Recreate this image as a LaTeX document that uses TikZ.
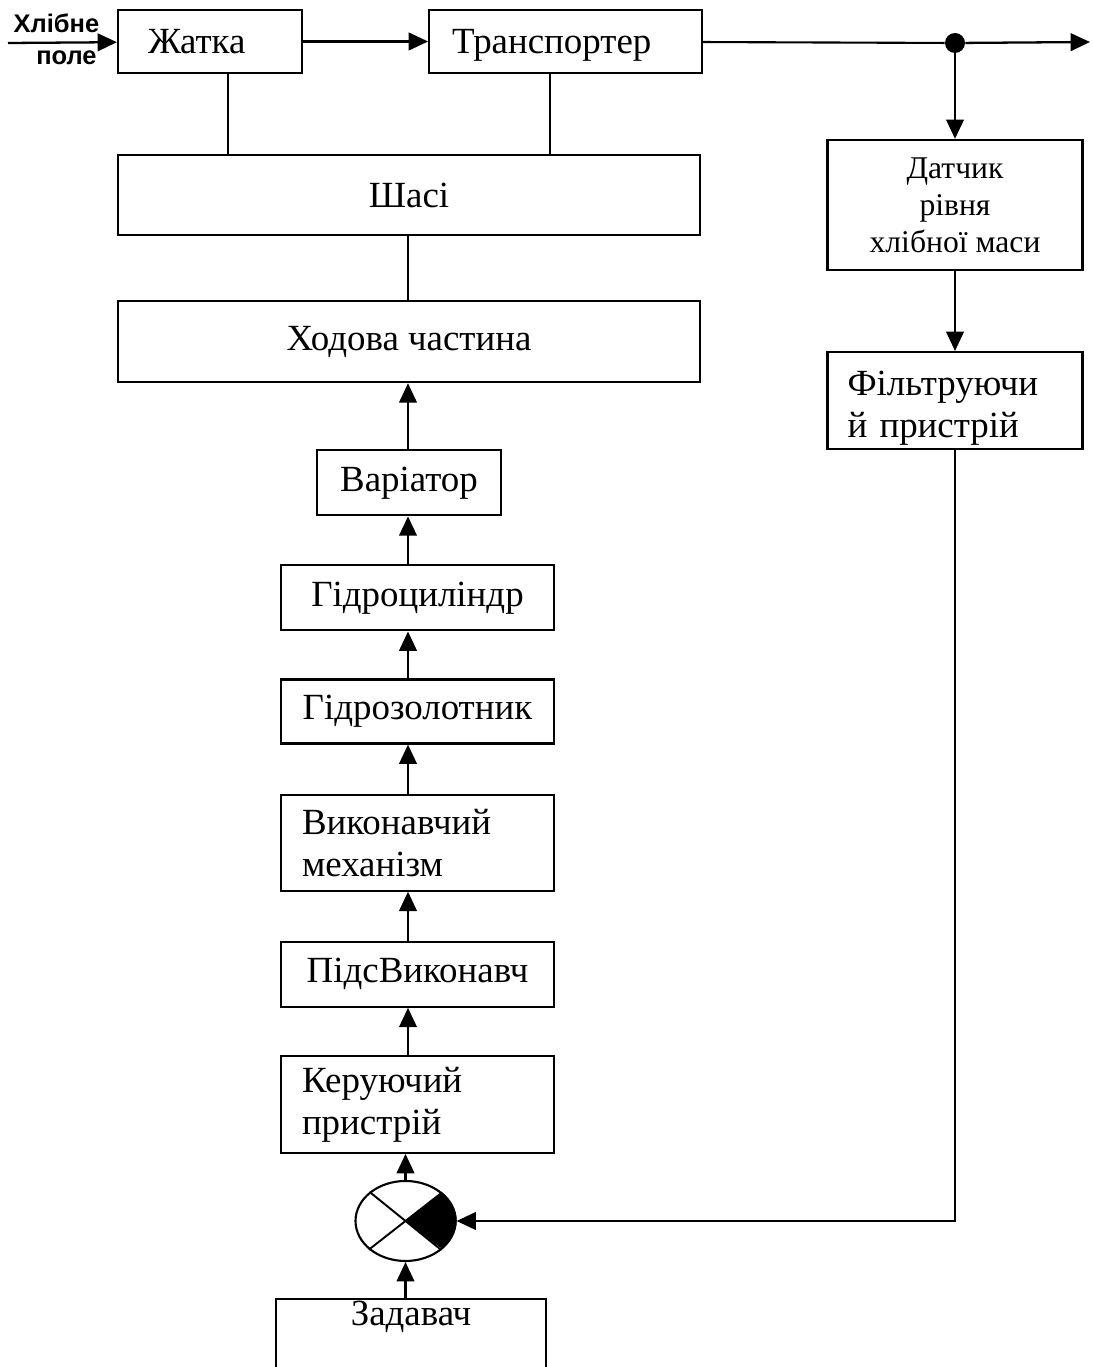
\documentclass[tikz,border=0pt]{standalone}
\usepackage{fontspec}
\setmainfont{Liberation Serif}
\setsansfont{Liberation Sans}
\usepackage{tikz}
\usetikzlibrary{positioning}
\usetikzlibrary{arrows.meta}
\usetikzlibrary{shapes}
\tikzset{%
  every block/.style={
    rectangle,
    draw,
    line width=1.2pt,
    inner sep=0pt,
    font=\fontsize{21}{24}\selectfont
  },
  left block/.style={
    every block,
    align=left,
    inner xsep=#1
  },
  summator/.style={
    ellipse,
    draw,
    line width=1.2pt,
    inner sep=0pt,
    minimum width=2cm,
    minimum height=1.6cm
  },
  field text/.style={
    inner sep=0pt,
    font=\sffamily\bfseries\fontsize{14.5}{16}\selectfont
  },
}
\begin{document}
\begin{tikzpicture}
      \tikzstyle{line} = [draw, -{Triangle[length=11pt,width=10pt]}, line width=1.3pt]
      \tikzstyle{link} = [draw, line width=1.2pt]
      \useasboundingbox (0,0) rectangle (21.86,-27.34);
      \coordinate (axis) at (8.16,0);

      % Жатка
      \node[left block=0.6cm,text width=2.48cm,minimum height=1.26cm] (header) at (4.2,-0.83) {Жатка};

      % Транспортер
      \node[left block=0.46cm,text width=4.54cm,minimum height=1.26cm,text depth=0pt,right = 2.5cm of header] (transp) {Транспортер};

      % Шасі
      \node[every block,minimum width=11.64cm,minimum height=1.6cm,below = 1.6cm of header.south west,anchor=north west] (chassis) {Шасі};

      % Ходова частина
      \node[every block,minimum width=11.64cm,minimum height=1.62cm,below = 1.28cm of chassis] (running) {Ходова частина};

      % regulation chain
      \node[every block,minimum width=3.68cm,minimum height=1.3cm,below = 1.32cm of running] (variator) {Варіатор};
      \node[every block,minimum width=5.46cm,minimum height=1.3cm,below = 0.96cm of variator,xshift=0.17cm] (hydrocyl) {Гідроциліндр};
      \node[every block,minimum width=5.46cm,minimum height=1.28cm,below = 0.94cm of hydrocyl] (spool) {Гідрозолотник};
      \node[left block=0.42cm,text width=4.62cm,minimum height=1.92cm,below = 0.98cm of spool] (actuator) {Виконавчий\\механізм};
      \node[every block,minimum width=5.46cm,minimum height=1.3cm,below = 0.98cm of actuator] (amplifier) {ПідсВиконавч};
      \node[left block=0.42cm,text width=4.62cm,minimum height=1.94cm,below = 0.94cm of amplifier] (controller) {Керуючий\\пристрій};

      % Summator
      \node[summator,below = 0.52cm of controller,xshift=-0.24cm] (sum) {};
      \fill (sum.center) -- (sum.38.66) arc[start angle=45,end angle=-45,x radius=1cm,y radius=0.8cm] -- cycle;
      \draw[line width=1.1pt] (sum.38.66) -- (sum.218.66);
      \draw[line width=1.1pt] (sum.141.34) -- (sum.321.34);

      % Задавач
      \node[every block,minimum width=5.4cm,minimum height=1.84cm,text depth=1.26cm,below = 0.72cm of sum,xshift=0.11cm] (setter) {Задавач};

      % Level sensor branch
      \node[circle,fill,inner sep=0pt,minimum size=0.4cm] (split) at (19.1,-0.86) {};
      \coordinate (out) at (21.8,-0.84);
      \node[every block,minimum width=5.1cm,minimum height=2.6cm,align=center,font=\fontsize{18}{21}\selectfont,below = 1.71cm of split] (sensor) {Датчик\\рівня\\хлібної маси};
      \node[left block=0.4cm,text width=4.3cm,minimum height=1.94cm,text height=0.8cm,below = 1.6cm of sensor] (filter) {Фільтруючи\\й пристрій};

      % field -> \header
      \coordinate (field) at (0.16,-0.86);
      \path[line] (field) -- node[field text,above=5pt,xshift=-0.12cm] (crop) {Хлібне}
        node[field text,below=4pt,xshift=0.08cm] (field label) {поле} (header);

      % \header -> \transp -> output
      \path[line] (header) -- (transp);
      \draw[link] (transp) -- (split);
      \path[line] (split) -- (out);

      % machine links
      \draw[link] ([xshift=0.36cm]header.south) -- ([xshift=0.36cm]header.south |- chassis.north);
      \draw[link] ([xshift=-0.31cm]transp.south) -- ([xshift=-0.31cm]transp.south |- chassis.north);
      \draw[link] (chassis.south -| axis) -- (running.north -| axis);

      % chain arrows
      \foreach \from/\to in {variator/running,hydrocyl/variator,spool/hydrocyl,actuator/spool,amplifier/actuator,controller/amplifier}
        \path[line] (\from.north -| axis) -- (\to.south -| axis);
      \path[line] (sum.north) -- (sum.north |- controller.south);
      \path[line] (sum.south |- setter.north) -- (sum.south);

      % feedback
      \path[line] (split) -- (sensor);
      \path[line] (sensor) -- (filter);
      \path[line] (filter) |- (sum);
    \end{tikzpicture}
\end{document}
